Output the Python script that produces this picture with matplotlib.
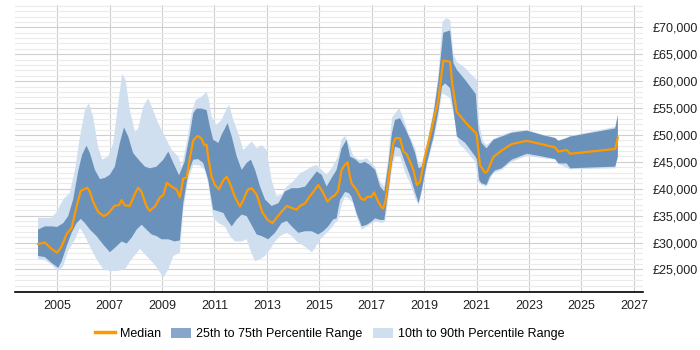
import numpy as np
import matplotlib
matplotlib.use("Agg")
import matplotlib.pyplot as plt
from matplotlib.ticker import MultipleLocator, FuncFormatter
from matplotlib.lines import Line2D
from matplotlib.patches import Patch

plt.rcParams['font.family'] = ['Liberation Sans', 'DejaVu Sans']

# median salary over time (year, value)
median_x = [2004.27, 2004.53, 2004.79, 2005.00, 2005.17, 2005.36, 2005.55, 2005.74, 2005.90, 2006.03,
            2006.15, 2006.25, 2006.37, 2006.56, 2006.78, 2006.95, 2007.18, 2007.37, 2007.46, 2007.58,
            2007.77, 2007.97, 2008.09, 2008.22, 2008.41, 2008.53, 2008.73, 2008.92, 2009.05, 2009.18,
            2009.37, 2009.56, 2009.68, 2009.81, 2009.94, 2010.07, 2010.19, 2010.36, 2010.51, 2010.61,
            2010.70, 2010.76, 2010.89, 2011.02, 2011.17, 2011.34, 2011.47, 2011.59, 2011.78, 2011.97,
            2012.10, 2012.27, 2012.42, 2012.61, 2012.83, 2013.03, 2013.21, 2013.37, 2013.57, 2013.76,
            2013.95, 2014.14, 2014.26, 2014.46, 2014.61, 2014.77, 2014.96, 2015.13, 2015.31, 2015.47,
            2015.60, 2015.72, 2015.85, 2015.97, 2016.08, 2016.16, 2016.23, 2016.42, 2016.58, 2016.71,
            2016.84, 2016.99, 2017.09, 2017.22, 2017.35, 2017.44, 2017.53, 2017.70, 2017.82, 2017.91,
            2018.08, 2018.21, 2018.34, 2018.46, 2018.59, 2018.72, 2018.84, 2019.03, 2019.29, 2019.54,
            2019.73, 2019.99, 2020.07, 2020.24, 2020.62, 2021.00, 2021.13, 2021.32, 2021.41, 2021.64,
            2021.96, 2022.34, 2022.92, 2023.99, 2024.12, 2024.44, 2024.57, 2026.29, 2026.39]
median_y = [29700, 30000, 28800, 28100, 29300, 31600, 32700, 36700, 39600, 39900,
            40200, 39400, 37600, 35700, 34900, 35400, 36800, 37000, 37900, 36900,
            36800, 39100, 40200, 39400, 36700, 35900, 36700, 38400, 38800, 41100,
            40400, 39800, 38400, 41900, 42100, 45900, 49000, 49800, 49300, 48100,
            48200, 45900, 42200, 40700, 39900, 41600, 42200, 41000, 38500, 36700,
            37900, 39800, 40100, 38900, 35600, 34200, 33600, 34600, 35800, 36800,
            36400, 36100, 36800, 37300, 38400, 39400, 40700, 39400, 37600, 38400,
            38800, 39600, 43500, 44400, 44900, 42500, 41000, 39800, 38200, 37900,
            38500, 38500, 39300, 37900, 36700, 36300, 37900, 44100, 48400, 49400,
            49400, 46900, 46400, 45000, 43500, 40700, 41300, 45900, 51200, 56500,
            63800, 63600, 59600, 54300, 52100, 50200, 44400, 43000, 43200, 45900,
            47100, 48300, 48900, 47700, 46900, 47200, 46500, 47400, 49500]

# 75th percentile
p75_x = [2004.27, 2004.53, 2004.79, 2005.00, 2005.23, 2005.42, 2005.61, 2005.80, 2005.95, 2006.12,
         2006.25, 2006.44, 2006.63, 2006.82, 2007.01, 2007.20, 2007.39, 2007.55, 2007.71, 2007.90,
         2008.16, 2008.35, 2008.54, 2008.79, 2009.05, 2009.24, 2009.43, 2009.65, 2009.86, 2010.07,
         2010.19, 2010.32, 2010.51, 2010.70, 2010.83, 2010.95, 2011.15, 2011.27, 2011.40, 2011.50,
         2011.66, 2011.85, 2012.04, 2012.23, 2012.39, 2012.55, 2012.74, 2012.93, 2013.18, 2013.44,
         2013.69, 2013.95, 2014.20, 2014.46, 2014.71, 2014.90, 2015.09, 2015.28, 2015.47, 2015.66,
         2015.85, 2016.04, 2016.17, 2016.36, 2016.55, 2016.74, 2016.93, 2017.13, 2017.32, 2017.48,
         2017.64, 2017.77, 2017.89, 2018.08, 2018.28, 2018.47, 2018.66, 2018.79, 2018.91, 2019.10,
         2019.36, 2019.54, 2019.73, 2019.85, 2019.99, 2020.12, 2020.25, 2020.57, 2020.97, 2021.07,
         2021.19, 2021.38, 2021.64, 2021.96, 2022.34, 2022.92, 2023.49, 2024.00, 2024.12, 2024.44,
         2024.57, 2026.29, 2026.39]
p75_y = [32400, 33000, 33000, 32900, 33600, 34900, 38000, 43200, 46300, 48000,
         46600, 43500, 41800, 42000, 42600, 44100, 48500, 51400, 49700, 46600,
         45100, 44100, 43800, 44100, 45400, 46900, 44800, 42500, 45000, 50300,
         54000, 54900, 54900, 54600, 51500, 49100, 48500, 50000, 51200, 52200,
         49700, 46000, 43500, 44800, 45400, 43500, 40400, 38000, 36800, 37300,
         39500, 40100, 40100, 40400, 42000, 43200, 42600, 40400, 42000, 43500,
         47500, 49100, 46000, 45500, 44700, 45000, 44400, 43500, 40400, 39500,
         44700, 50300, 52800, 53100, 51200, 49100, 46600, 43800, 44100, 47800,
         54000, 60000, 69000, 69200, 69400, 63300, 62100, 60200, 57600, 50900,
         48500, 47500, 49100, 49700, 50400, 50800, 50000, 49400, 48900, 49400,
         49700, 51200, 53700]

# 25th percentile
p25_x = [2004.27, 2004.53, 2004.79, 2005.04, 2005.17, 2005.36, 2005.55, 2005.74, 2005.90, 2006.06,
         2006.25, 2006.50, 2006.76, 2007.01, 2007.20, 2007.46, 2007.65, 2007.84, 2008.03, 2008.22,
         2008.41, 2008.60, 2008.79, 2008.98, 2009.24, 2009.49, 2009.68, 2009.81, 2010.00, 2010.19,
         2010.38, 2010.57, 2010.76, 2010.95, 2011.15, 2011.34, 2011.47, 2011.66, 2011.85, 2012.04,
         2012.23, 2012.42, 2012.61, 2012.80, 2013.05, 2013.31, 2013.56, 2013.76, 2013.95, 2014.20,
         2014.46, 2014.71, 2014.96, 2015.15, 2015.34, 2015.53, 2015.66, 2015.79, 2015.98, 2016.13,
         2016.23, 2016.42, 2016.62, 2016.81, 2017.00, 2017.13, 2017.32, 2017.48, 2017.64, 2017.77,
         2017.89, 2018.08, 2018.28, 2018.47, 2018.66, 2018.79, 2018.91, 2019.10, 2019.36, 2019.55,
         2019.68, 2019.80, 2019.99, 2020.12, 2020.25, 2020.57, 2020.95, 2021.01, 2021.10, 2021.19,
         2021.38, 2021.51, 2021.70, 2021.96, 2022.34, 2022.92, 2023.49, 2024.00, 2024.12, 2024.44,
         2024.57, 2026.29, 2026.39]
p25_y = [27500, 27300, 26200, 25300, 26500, 29300, 31800, 33600, 34400, 33600,
         32400, 31200, 29600, 28200, 29000, 30200, 29800, 30900, 32400, 33300,
         32400, 31500, 31200, 30600, 30600, 30200, 30400, 37300, 42900, 45400,
         45500, 44800, 41700, 36100, 35800, 35500, 34300, 33000, 34300, 35200,
         34900, 33200, 31500, 31200, 30600, 31800, 33600, 34000, 33000, 31800,
         32100, 32100, 31500, 32100, 33000, 34300, 34500, 37900, 39400, 39200,
         38500, 35500, 33000, 33300, 33900, 34500, 34200, 34200, 39800, 44700,
         47800, 47500, 44700, 42300, 39200, 37300, 39800, 44700, 49700, 54600,
         59000, 59600, 58700, 54600, 49700, 48500, 46000, 45500, 41600, 41000,
         40700, 42300, 43400, 43800, 45400, 46500, 46000, 45500, 44700, 44700,
         43800, 44100, 46000]

# 90th percentile
p90_x = [2004.27, 2004.53, 2004.79, 2005.00, 2005.23, 2005.48, 2005.68, 2005.87, 2006.06, 2006.21,
         2006.37, 2006.56, 2006.72, 2006.95, 2007.14, 2007.33, 2007.48, 2007.61, 2007.77, 2007.97,
         2008.09, 2008.28, 2008.47, 2008.66, 2008.85, 2009.11, 2009.37, 2009.62, 2009.75, 2009.94,
         2010.13, 2010.29, 2010.51, 2010.70, 2010.79, 2010.89, 2011.08, 2011.27, 2011.47, 2011.56,
         2011.72, 2011.91, 2012.10, 2012.23, 2012.42, 2012.61, 2012.80, 2012.99, 2013.18, 2013.37,
         2013.56, 2013.76, 2014.01, 2014.27, 2014.52, 2014.71, 2014.90, 2015.09, 2015.28, 2015.47,
         2015.72, 2015.85, 2015.98, 2016.11, 2016.30, 2016.49, 2016.68, 2016.81, 2017.00, 2017.13,
         2017.32, 2017.48, 2017.64, 2017.77, 2017.89, 2018.05, 2018.21, 2018.40, 2018.66, 2018.79,
         2018.91, 2019.10, 2019.36, 2019.55, 2019.70, 2019.83, 2019.99, 2020.12, 2020.25, 2020.57,
         2021.01, 2021.10, 2021.25, 2021.38, 2021.64, 2021.96, 2022.34, 2022.92, 2023.49, 2024.00,
         2024.12, 2024.44, 2024.57, 2026.29, 2026.39]
p90_y = [34600, 34600, 34600, 35800, 38000, 39200, 43500, 49700, 54600, 55900,
         53400, 47800, 45400, 46000, 48500, 55900, 61400, 60200, 54600, 50600,
         51200, 55200, 56800, 54600, 52200, 49700, 47200, 46000, 44000, 48500,
         54000, 56500, 57100, 58000, 56500, 53400, 51900, 52800, 54900, 55600,
         52800, 50300, 47200, 47800, 48800, 47500, 48100, 47200, 41600, 38600,
         38900, 40400, 41400, 42900, 43500, 44100, 44400, 43500, 42600, 43800,
         46000, 49100, 49800, 48500, 46100, 45400, 45400, 45700, 44700, 44100,
         41300, 40400, 46000, 53100, 54000, 55000, 53100, 50300, 47500, 44700,
         44700, 48500, 54600, 61500, 71000, 71700, 71400, 64900, 63600, 62400,
         60200, 52000, 48800, 48100, 49200, 50000, 50600, 50900, 50100, 49500,
         49000, 49500, 49800, 51500, 53700]

# 10th percentile
p10_x = [2004.27, 2004.53, 2004.79, 2005.04, 2005.23, 2005.42, 2005.68, 2005.87, 2006.06, 2006.31,
         2006.50, 2006.76, 2007.01, 2007.27, 2007.58, 2007.84, 2008.16, 2008.41, 2008.66, 2008.85,
         2009.05, 2009.24, 2009.43, 2009.68, 2009.81, 2010.00, 2010.19, 2010.45, 2010.64, 2010.76,
         2010.95, 2011.15, 2011.40, 2011.59, 2011.78, 2012.04, 2012.23, 2012.36, 2012.55, 2012.74,
         2012.93, 2013.12, 2013.31, 2013.50, 2013.76, 2013.95, 2014.14, 2014.33, 2014.52, 2014.71,
         2014.84, 2015.03, 2015.22, 2015.41, 2015.60, 2015.72, 2015.85, 2015.98, 2016.11, 2016.30,
         2016.42, 2016.62, 2016.81, 2017.00, 2017.19, 2017.38, 2017.51, 2017.64, 2017.77, 2017.89,
         2018.08, 2018.28, 2018.47, 2018.66, 2018.79, 2018.91, 2019.10, 2019.36, 2019.55, 2019.68,
         2019.83, 2019.99, 2020.19, 2020.31, 2020.57, 2020.95, 2021.07, 2021.19, 2021.38, 2021.64,
         2021.96, 2022.34, 2022.92, 2023.49, 2024.00, 2024.12, 2024.57, 2026.29, 2026.39]
p10_y = [26900, 26700, 25900, 24600, 25600, 28400, 30600, 32700, 31200, 28700,
         26900, 25000, 24700, 24700, 25000, 26900, 28800, 27500, 26200, 25000,
         23500, 25000, 27500, 28100, 36100, 41700, 44400, 44300, 43500, 41000,
         34800, 33600, 33000, 31200, 30200, 30200, 30600, 28700, 26500, 26900,
         27500, 28700, 30200, 31200, 31800, 31200, 30200, 29600, 29000, 28200,
         29000, 30600, 31500, 32400, 33600, 34200, 37000, 38500, 38200, 37300,
         34800, 32400, 33000, 33600, 33900, 33600, 33900, 38500, 43800, 46000,
         46000, 42900, 41000, 38200, 37000, 39200, 44100, 49100, 53400, 57700,
         57400, 56800, 52200, 48500, 47200, 45000, 41300, 40700, 40400, 42900,
         43500, 45000, 46100, 45700, 45400, 44600, 43600, 43800, 45700]

year_ticks = [2005, 2007, 2009, 2011, 2013, 2015, 2017, 2019, 2021, 2023, 2025, 2027]

dark_blue = '#6a91ba'
light_blue = '#cfdfef'
legend_dark = '#88a6c9'
orange = '#ff9900'

fig = plt.figure(figsize=(7, 3.5), dpi=100)
ax = fig.add_axes([0.0214, 0.1657, 0.8972, 0.82])

# light band (10th-90th)
ax.fill(np.concatenate([p90_x, p10_x[::-1]]), np.concatenate([p90_y, p10_y[::-1]]),
        color=light_blue, lw=0, zorder=2)
# dark band (25th-75th)
ax.fill(np.concatenate([p75_x, p25_x[::-1]]), np.concatenate([p75_y, p25_y[::-1]]),
        color=dark_blue, lw=0, zorder=3)
ax.plot(median_x, median_y, color=orange, lw=1.6, zorder=4)

ax.set_xlim(2003.39, 2027.35)
ax.set_ylim(20800, 74150)
ax.set_xticks(year_ticks)
ax.yaxis.set_major_locator(MultipleLocator(5000))
ax.yaxis.set_minor_locator(MultipleLocator(1000))
ax.yaxis.set_major_formatter(FuncFormatter(lambda v, p: '£{:,.0f}'.format(v)))
ax.yaxis.tick_right()

ax.grid(axis='y', which='minor', color='#ebebeb', lw=0.8, zorder=0)
ax.grid(axis='y', which='major', color='#cfcfcf', lw=0.8, zorder=0)
ax.grid(axis='x', which='major', color='#cfcfcf', lw=0.8, zorder=0)
ax.set_axisbelow(True)

for s in ['left', 'right', 'top']:
    ax.spines[s].set_visible(False)
ax.spines['bottom'].set_color('black')
ax.spines['bottom'].set_linewidth(1.2)

ax.tick_params(axis='both', which='both', length=0, labelsize=9, colors='#222222')
ax.tick_params(axis='x', pad=6)
ax.tick_params(axis='y', pad=7)

handles = [Line2D([0], [0], color=orange, lw=2.5),
           Patch(facecolor=legend_dark, edgecolor='none'),
           Patch(facecolor=light_blue, edgecolor='none')]
labels = ['Median', '25th to 75th Percentile Range', '10th to 90th Percentile Range']
fig.legend(handles, labels, loc='center', bbox_to_anchor=(0.471, 0.046), ncol=3,
           frameon=False, fontsize=9, handlelength=1.6, handleheight=0.9,
           handletextpad=0.4, columnspacing=0.8)

fig.savefig('out.png', dpi=100)
